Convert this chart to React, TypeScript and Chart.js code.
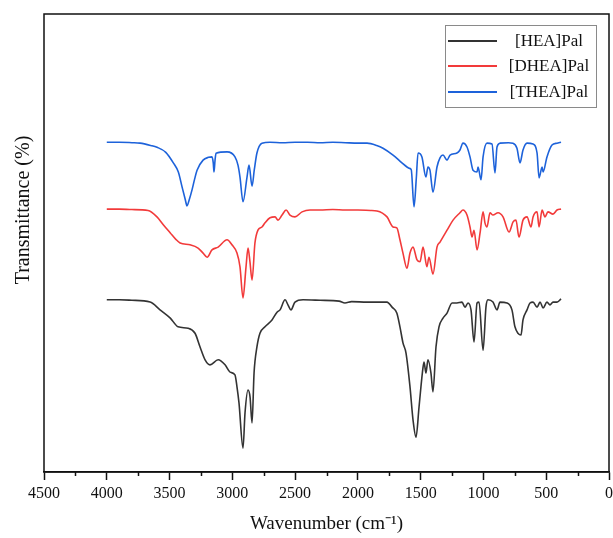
import React, { useEffect, useRef } from "react";
import { Chart, registerables } from "chart.js";

Chart.register(...registerables);

// ---------- data (wavenumber in cm-1, transmittance in arbitrary %, offset per series) ----------
const seriesLabels = ["[HEA]Pal", "[DHEA]Pal", "[THEA]Pal"];
const seriesColors = ["#333333", "#f23a3a", "#1d62da"];

const heaWn = [4000, 3900, 3800, 3655, 3576, 3494, 3432, 3353, 3297, 3257, 3217, 3178, 3113, 3058, 3018, 2979, 2963, 2947, 2915, 2899, 2875, 2859, 2843, 2827, 2804, 2780, 2740, 2684, 2644, 2620, 2580, 2557, 2533, 2501, 2437, 2300, 2150, 2103, 2050, 1927, 1768, 1728, 1690, 1665, 1641, 1617, 1585, 1561, 1537, 1513, 1481, 1473, 1458, 1442, 1418, 1402, 1378, 1354, 1322, 1290, 1250, 1211, 1171, 1147, 1123, 1099, 1075, 1051, 1035, 1003, 980, 964, 924, 892, 868, 813, 773, 749, 725, 701, 685, 653, 629, 605, 573, 549, 525, 494, 470, 446, 414, 382];
const heaT = [37.6, 37.6, 37.5, 37.1, 35.4, 33.6, 31.7, 31.4, 30.3, 27.3, 24.5, 23.4, 24.5, 23.4, 21.8, 21.2, 18.6, 15.1, 5.2, 12.9, 17.9, 16.4, 10.7, 21.6, 27.3, 30.3, 31.7, 33.2, 34.9, 35.4, 37.6, 36.5, 35.4, 37.1, 37.6, 37.5, 37.3, 36.9, 37.2, 37.1, 37.1, 36.0, 34.7, 31.7, 28.2, 26.0, 18.6, 11.4, 7.6, 14.2, 22.9, 24.0, 21.6, 24.5, 21.6, 17.5, 27.3, 31.7, 33.6, 34.7, 36.9, 36.9, 37.1, 36.0, 36.9, 35.4, 28.4, 36.9, 37.1, 26.6, 36.0, 37.6, 37.1, 35.4, 37.1, 36.9, 35.4, 31.7, 30.3, 29.9, 33.2, 35.4, 36.9, 37.1, 36.0, 37.1, 35.8, 37.1, 36.5, 37.1, 37.1, 37.8];

const dheaWn = [4000, 3900, 3800, 3671, 3600, 3550, 3494, 3450, 3416, 3337, 3273, 3233, 3201, 3162, 3113, 3042, 3003, 2963, 2939, 2915, 2891, 2875, 2860, 2843, 2820, 2796, 2764, 2740, 2700, 2660, 2636, 2604, 2572, 2541, 2501, 2445, 2381, 2300, 2200, 2100, 2000, 1900, 1848, 1768, 1720, 1690, 1665, 1641, 1609, 1585, 1561, 1529, 1505, 1481, 1450, 1434, 1402, 1370, 1346, 1290, 1242, 1187, 1163, 1131, 1107, 1091, 1075, 1051, 1027, 1003, 988, 972, 948, 924, 884, 844, 796, 764, 741, 717, 685, 653, 621, 605, 573, 557, 533, 510, 486, 446, 414, 382];
const dheaT = [57.4, 57.4, 57.3, 57.1, 55.7, 54.0, 52.2, 50.8, 50.0, 49.6, 48.9, 47.8, 46.9, 48.5, 49.1, 50.7, 49.6, 47.8, 44.8, 38.0, 44.8, 48.9, 46.0, 41.9, 50.0, 52.8, 53.5, 54.4, 55.5, 55.7, 55.0, 56.1, 57.2, 56.1, 55.7, 56.8, 57.2, 57.2, 57.3, 57.2, 57.2, 57.1, 57.0, 55.7, 53.5, 53.3, 50.7, 47.8, 44.5, 47.8, 49.1, 46.3, 45.9, 49.1, 44.8, 46.9, 43.2, 49.1, 50.2, 52.8, 55.0, 56.6, 57.2, 56.1, 53.5, 51.3, 52.8, 48.5, 52.2, 56.8, 54.4, 53.5, 56.6, 56.1, 56.6, 55.7, 52.4, 54.6, 55.0, 51.3, 55.0, 55.7, 53.5, 55.7, 56.8, 53.5, 57.2, 55.7, 56.8, 56.3, 57.2, 57.4];

const theaWn = [4000, 3900, 3800, 3735, 3650, 3600, 3530, 3470, 3430, 3400, 3375, 3361, 3345, 3321, 3300, 3281, 3233, 3190, 3162, 3152, 3146, 3138, 3130, 3042, 2979, 2955, 2939, 2915, 2883, 2867, 2843, 2825, 2804, 2764, 2700, 2600, 2500, 2400, 2300, 2200, 2100, 2000, 1927, 1850, 1800, 1720, 1649, 1609, 1590, 1575, 1553, 1535, 1521, 1490, 1458, 1442, 1426, 1402, 1370, 1346, 1322, 1290, 1266, 1211, 1187, 1163, 1131, 1107, 1083, 1051, 1043, 1019, 1003, 972, 932, 908, 892, 868, 800, 765, 733, 709, 685, 653, 605, 573, 557, 533, 525, 494, 454, 414, 382];
const theaT = [72.0, 72.0, 71.9, 71.8, 71.3, 70.9, 69.8, 67.5, 65.5, 62.2, 59.5, 58.1, 59.3, 61.6, 64.0, 65.9, 68.1, 68.7, 68.8, 67.5, 65.5, 68.0, 69.6, 69.9, 68.8, 67.0, 64.4, 59.0, 64.4, 67.0, 62.4, 66.0, 69.65, 71.8, 72.0, 71.9, 72.0, 72.0, 71.9, 72.0, 71.9, 71.8, 71.8, 71.3, 70.7, 69.2, 67.5, 66.6, 66.3, 66.0, 57.9, 64.0, 69.65, 68.8, 64.4, 66.6, 65.9, 61.1, 66.6, 68.6, 69.2, 68.1, 69.2, 69.65, 70.3, 71.8, 70.96, 68.8, 65.9, 65.5, 66.6, 63.8, 68.8, 71.8, 71.6, 65.3, 70.96, 71.8, 71.9, 71.8, 70.7, 67.5, 70.3, 71.8, 71.6, 69.65, 64.2, 66.6, 65.5, 68.8, 71.4, 71.8, 72.0];

const xMin = 0;
const xMax = 4500;
const xMajorStep = 500;
const xMinorStep = 250;

const FONT = '"Liberation Serif", "Times New Roman", serif';

function toPoints(xs: number[], ys: number[]) {
  return xs.map((x, i) => ({ x, y: ys[i] }));
}

const framePlugin = {
  id: "frameAndExtras",
  afterDraw(chart: any) {
    const ctx = chart.ctx;
    const { left, right, top, bottom } = chart.chartArea;
    const xs = chart.scales.x;
    ctx.save();
    // frame
    ctx.strokeStyle = "#111";
    ctx.lineWidth = 1.5;
    ctx.strokeRect(left, top, right - left, bottom - top);
    // minor ticks
    for (let v = xMin; v <= xMax; v += xMinorStep) {
      if (v % xMajorStep === 0) continue;
      const px = Math.round(xs.getPixelForValue(v)) + 0.5;
      ctx.beginPath();
      ctx.moveTo(px, bottom);
      ctx.lineTo(px, bottom + 4);
      ctx.stroke();
    }
    // y title
    ctx.fillStyle = "#111";
    ctx.font = `20px ${FONT}`;
    ctx.textAlign = "center";
    ctx.textBaseline = "middle";
    ctx.translate(24, 210);
    ctx.rotate(-Math.PI / 2);
    ctx.fillText("Transmittance (%)", 0, 0);
    ctx.restore();

    // legend
    ctx.save();
    const bx = 445, by = 25, bw = 151, bh = 82;
    ctx.strokeStyle = "#8a8a8a";
    ctx.lineWidth = 1;
    ctx.strokeRect(bx + 0.5, by + 0.5, bw, bh);
    const rows = [41, 66, 92];
    ctx.font = `17px ${FONT}`;
    ctx.textAlign = "center";
    ctx.textBaseline = "middle";
    chart.data.datasets.forEach((ds: any, i: number) => {
      ctx.strokeStyle = ds.borderColor;
      ctx.lineWidth = 2;
      ctx.beginPath();
      ctx.moveTo(448, rows[i]);
      ctx.lineTo(497, rows[i]);
      ctx.stroke();
      ctx.fillStyle = "#111";
      ctx.fillText(ds.label, 549, rows[i] + 1);
    });
    ctx.restore();
  },
};

export default function App() {
  const ref = useRef<HTMLCanvasElement>(null);
  useEffect(() => {
    if (!ref.current) return;
    const data = [toPoints(heaWn, heaT), toPoints(dheaWn, dheaT), toPoints(theaWn, theaT)];
    const chart = new Chart(ref.current, {
      type: "line",
      data: {
        datasets: data.map((d, i) => ({
          label: seriesLabels[i],
          data: d,
          borderColor: seriesColors[i],
          backgroundColor: seriesColors[i],
          borderWidth: 1.6,
          pointRadius: 0,
          cubicInterpolationMode: "monotone" as const,
          fill: false,
        })),
      },
      options: {
        responsive: false,
        animation: false,
        devicePixelRatio: 1,
        layout: { padding: { left: 44, right: 4, top: 14, bottom: 0 } },
        plugins: { legend: { display: false }, tooltip: { enabled: false } },
        scales: {
          x: {
            type: "linear",
            reverse: true,
            min: xMin,
            max: xMax,
            afterFit(scale: any) {
              scale.height = 66;
              scale.paddingLeft = 0;
              scale.paddingRight = 0;
            },
            ticks: {
              stepSize: xMajorStep,
              autoSkip: false,
              maxRotation: 0,
              color: "#111",
              padding: 4,
              font: { family: FONT, size: 16 },
              callback: (v: any) => String(v),
            },
            grid: {
              display: true,
              drawOnChartArea: false,
              drawTicks: true,
              tickLength: 8,
              tickColor: "#111",
              tickWidth: 1.5,
            },
            border: { display: true, color: "#111", width: 1.5 },
            title: {
              display: true,
              text: "Wavenumber (cm⁻¹)",
              color: "#111",
              font: { family: FONT, size: 19, lineHeight: 1.2 },
              padding: { top: 0, bottom: 3 },
            },
          },
          y: {
            display: false,
            min: 0,
            max: 100,
          },
        },
      },
      plugins: [framePlugin],
    });
    return () => chart.destroy();
  }, []);
  return (
    <div style={{ position: "fixed", left: 0, top: 0, width: 613, height: 538, background: "#fff" }}>
      <canvas ref={ref} width={613} height={538} style={{ display: "block" }} />
    </div>
  );
}
